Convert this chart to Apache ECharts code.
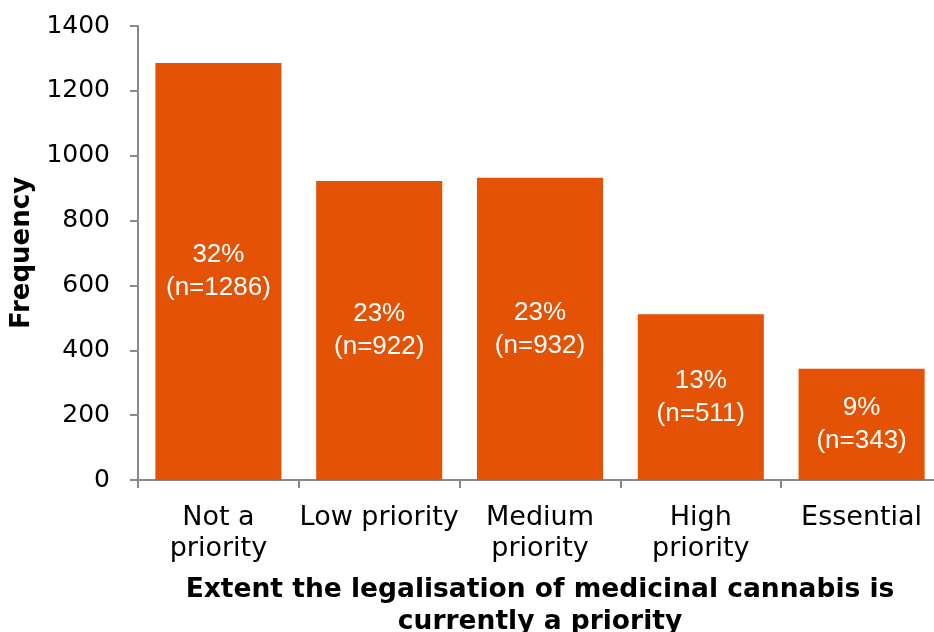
<!DOCTYPE html>
<html>
<head>
<meta charset="utf-8">
<script src="https://cdn.jsdelivr.net/npm/echarts@6/dist/echarts.min.js"></script>
<style>html,body{margin:0;padding:0;background:#fff;}#c{width:934px;height:632px;}</style>
</head>
<body>
<div id="c"></div>
<script>
var categories = ['Not a\npriority', 'Low priority', 'Medium\npriority', 'High\npriority', 'Essential'];
var frequency = [1286, 922, 932, 511, 343];
var percents = ['32%', '23%', '23%', '13%', '9%'];
var yTicks = { min: 0, max: 1400, interval: 200 };

var chart = echarts.init(document.getElementById('c'));
chart.setOption({
  animation: false,
  grid: { left: 138, right: -8, top: 26, bottom: 152, containLabel: false, outerBoundsMode: 'none' },
  xAxis: {
    type: 'category',
    data: categories,
    axisLine: { lineStyle: { color: '#898989', width: 2 } },
    axisTick: { show: true, length: 8, lineStyle: { color: '#898989', width: 2 } },
    axisLabel: { color: '#000', fontFamily: 'DejaVu Sans', fontSize: 27, lineHeight: 31, margin: 22, interval: 0 },
    name: 'Extent the legalisation of medicinal cannabis is\ncurrently a priority',
    nameLocation: 'middle',
    nameGap: 94,
    nameTextStyle: { color: '#000', fontFamily: 'DejaVu Sans', fontWeight: 'bold', fontSize: 26.5, lineHeight: 32 }
  },
  yAxis: {
    type: 'value',
    min: yTicks.min, max: yTicks.max, interval: yTicks.interval,
    splitLine: { show: false },
    axisLine: { show: true, lineStyle: { color: '#898989', width: 2 } },
    axisTick: { show: true, length: 8, lineStyle: { color: '#898989', width: 2 } },
    axisLabel: { color: '#000', fontFamily: 'DejaVu Sans', fontSize: 25, margin: 28, formatter: function (v) { return String(v); } },
    name: 'Frequency',
    nameLocation: 'middle',
    nameGap: 103,
    nameTextStyle: { color: '#000', fontFamily: 'DejaVu Sans', fontWeight: 'bold', fontSize: 26 }
  },
  series: [{
    type: 'bar',
    data: frequency,
    barCategoryGap: '21.6%',
    itemStyle: { color: '#E35205' },
    label: {
      show: true,
      position: 'inside',
      color: '#fff',
      fontFamily: 'Liberation Sans',
      fontSize: 26,
      lineHeight: 33,
      formatter: function (p) { return percents[p.dataIndex] + '\n(n=' + p.value + ')'; }
    }
  }]
});
</script>
</body>
</html>
